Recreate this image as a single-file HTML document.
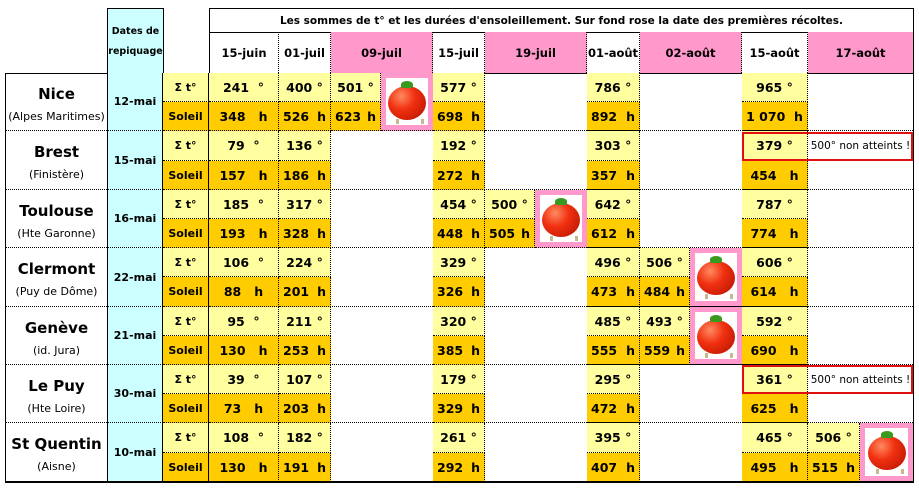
<!DOCTYPE html>
<html><head><meta charset="utf-8">
<style>
body{margin:0;width:919px;height:488px;background:#fff;position:relative;overflow:hidden;font-family:"DejaVu Sans","Liberation Sans",sans-serif;font-weight:bold;font-size:12.5px;color:#000}
div{position:absolute;box-sizing:border-box}
.c{display:flex;align-items:center;justify-content:center;white-space:nowrap;border-right:1px dotted #000;border-bottom:1px dotted #000}
.y{background:#ffff9f}
.o{background:#ffcc00}
.s{justify-content:space-between;padding:0 4px 0 4px}
.w{background:#fff}
.p{background:#ff99cc}
.c0{left:5px;width:102px}.c1{left:107px;width:56px}.c2{left:163px;width:46px}.c3{left:209px;width:70px}.c4{left:279px;width:52px}.c5{left:331px;width:50px}.c6{left:381px;width:52px}.c7{left:433px;width:52px}.c8{left:485px;width:50px}.c9{left:535px;width:52px}.c10{left:587px;width:53px}.c11{left:640px;width:50px}.c12{left:690px;width:52px}.c13{left:742px;width:66px}.c14{left:808px;width:52px}.c15{left:860px;width:53px}
.tom{display:block;background:#ff99cc;border-bottom:1px dotted #000}
.tom i{position:absolute;left:5px;top:5px;right:5px;bottom:5px;background:#fff}
.tom b{position:absolute;left:50%;top:50%;width:38px;height:34px;margin:-16px 0 0 -19px;border-radius:50%;background:radial-gradient(circle at 35% 30%,#ff8a60 0%,#f03010 40%,#b01000 100%)}
.tom b:before{content:"";position:absolute;left:13px;top:-5px;width:12px;height:7px;background:#3a9a20;border-radius:50% 50% 20% 20%}
.tom b:after{content:"";position:absolute;left:8px;top:33px;width:22px;height:5px;border-left:3px solid #c8b890;border-right:3px solid #c8b890}
.city{display:block;text-align:center;border-bottom:1px dotted #000;border-left:1px solid #000;font-weight:normal}
.city .n{position:static;font-weight:bold;font-size:15px;margin-top:12px}
.city .sub{position:static;font-size:11px;margin-top:7px}
.date{background:#ccffff;border-left:1px solid #000;border-right:1px solid #000;display:flex;align-items:center;justify-content:center;font-size:11px}
.lab{border-right:1px solid #000!important;font-size:11px}
.red{border:2px solid #e01010}
.na{font-weight:normal;font-size:10.5px}
</style></head><body>
<!-- headers -->
<div class="date" style="left:107px;top:8px;width:57px;height:66px;border-top:1px solid #000;line-height:20px;text-align:center;font-size:9.5px">Dates de<br>repiquage</div>
<div style="left:209px;top:8px;width:705px;height:25px;border:1px solid #000;border-bottom:1px solid #000;display:flex;align-items:center;justify-content:center;font-size:10.5px">Les sommes de t° et les durées d'ensoleillement. Sur fond rose la date des premières récoltes.</div>
<div style="left:209px;top:32px;width:705px;height:42px;border-left:1px solid #000;border-right:1px solid #000"></div>
<div class="c c3" style="top:32px;height:41px;border-left:1px solid #000;border-bottom:none;font-size:11.5px">15-juin</div>
<div class="c c4" style="top:32px;height:41px;border-bottom:none;font-size:11.5px">01-juil</div>
<div class="c p" style="left:331px;width:102px;top:32px;height:41px;border-bottom:none;font-size:11.5px">09-juil</div>
<div class="c c7" style="top:32px;height:41px;border-bottom:none;font-size:11.5px">15-juil</div>
<div class="c p" style="left:485px;width:102px;top:32px;height:41px;border-bottom:none;font-size:11.5px">19-juil</div>
<div class="c c10" style="top:32px;height:41px;border-bottom:none;font-size:11.5px">01-août</div>
<div class="c p" style="left:640px;width:102px;top:32px;height:41px;border-bottom:none;font-size:11.5px">02-août</div>
<div class="c c13" style="top:32px;height:41px;border-bottom:none;font-size:11.5px">15-août</div>
<div class="c p" style="left:808px;width:105px;top:32px;height:41px;border-bottom:none;border-right:none;font-size:11.5px">17-août</div>
<!-- table frame -->
<div style="left:5px;top:73px;width:909px;height:410px;border:1px solid #000"></div>

<!-- Nice 73-131 -->
<div class="city c0" style="top:73px;height:58px"><div class="n">Nice</div><div class="sub">(Alpes Maritimes)</div></div>
<div class="date c1" style="top:73px;height:58px;border-bottom:1px dotted #000">12-mai</div>
<div class="c y lab c2" style="top:73px;height:29px">Σ t°</div>
<div class="c o lab c2" style="top:102px;height:29px">Soleil</div>
<div class="c y c3" style="top:73px;height:29px">241&nbsp;&nbsp;°</div>
<div class="c o c3" style="top:102px;height:29px">348&nbsp;&nbsp;&nbsp;h</div>
<div class="c y c4" style="top:73px;height:29px">400 °</div>
<div class="c o s c4" style="top:102px;height:29px"><span>526</span><span>h</span></div>
<div class="c y c5" style="top:73px;height:29px">501 °</div>
<div class="c o s c5" style="top:102px;height:29px"><span>623</span><span>h</span></div>
<div class="tom c6" style="top:73px;height:58px"><i></i><b></b></div>
<div class="c y c7" style="top:73px;height:29px">577 °</div>
<div class="c o s c7" style="top:102px;height:29px"><span>698</span><span>h</span></div>
<div class="c c10 y" style="top:73px;height:29px">786 °</div>
<div class="c o s c10" style="top:102px;height:29px"><span>892</span><span>h</span></div>
<div class="c c13 y" style="top:73px;height:29px">965 °</div>
<div class="c o c13" style="top:102px;height:29px">1 070&nbsp;&nbsp;h</div>
<div style="left:485px;top:130px;width:428px;border-top:1px dotted #000"></div>

<!-- Brest 131-190 -->
<div class="city c0" style="top:131px;height:59px"><div class="n">Brest</div><div class="sub">(Finistère)</div></div>
<div class="date c1" style="top:131px;height:59px;border-bottom:1px dotted #000">15-mai</div>
<div class="c y lab c2" style="top:131px;height:30px">Σ t°</div>
<div class="c o lab c2" style="top:161px;height:29px">Soleil</div>
<div class="c y c3" style="top:131px;height:30px">79&nbsp;&nbsp;°</div>
<div class="c o c3" style="top:161px;height:29px">157&nbsp;&nbsp;&nbsp;h</div>
<div class="c y c4" style="top:131px;height:30px">136 °</div>
<div class="c o s c4" style="top:161px;height:29px"><span>186</span><span>h</span></div>
<div class="c y c7" style="top:131px;height:30px">192 °</div>
<div class="c o s c7" style="top:161px;height:29px"><span>272</span><span>h</span></div>
<div class="c y c10" style="top:131px;height:30px">303 °</div>
<div class="c o s c10" style="top:161px;height:29px"><span>357</span><span>h</span></div>
<div class="c y c13" style="top:131px;height:30px">379 °</div>
<div class="c o c13" style="top:161px;height:29px">454&nbsp;&nbsp;&nbsp;h</div>
<div class="c na" style="left:808px;width:105px;top:131px;height:30px;border:none">500° non atteints !</div>
<div class="red" style="left:742px;top:132px;width:171px;height:29px"></div>
<div style="left:209px;top:189px;width:704px;border-top:1px dotted #000"></div>

<!-- Toulouse 190-248 -->
<div class="city c0" style="top:190px;height:58px"><div class="n">Toulouse</div><div class="sub">(Hte Garonne)</div></div>
<div class="date c1" style="top:190px;height:58px;border-bottom:1px dotted #000">16-mai</div>
<div class="c y lab c2" style="top:190px;height:29px">Σ t°</div>
<div class="c o lab c2" style="top:219px;height:29px">Soleil</div>
<div class="c y c3" style="top:190px;height:29px">185&nbsp;&nbsp;°</div>
<div class="c o c3" style="top:219px;height:29px">193&nbsp;&nbsp;&nbsp;h</div>
<div class="c y c4" style="top:190px;height:29px">317 °</div>
<div class="c o s c4" style="top:219px;height:29px"><span>328</span><span>h</span></div>
<div class="c y c7" style="top:190px;height:29px">454 °</div>
<div class="c o s c7" style="top:219px;height:29px"><span>448</span><span>h</span></div>
<div class="c y c8" style="top:190px;height:29px">500 °</div>
<div class="c o s c8" style="top:219px;height:29px"><span>505</span><span>h</span></div>
<div class="tom c9" style="top:190px;height:58px"><i></i><b></b></div>
<div class="c y c10" style="top:190px;height:29px">642 °</div>
<div class="c o s c10" style="top:219px;height:29px"><span>612</span><span>h</span></div>
<div class="c y c13" style="top:190px;height:29px">787 °</div>
<div class="c o c13" style="top:219px;height:29px">774&nbsp;&nbsp;&nbsp;h</div>
<div style="left:209px;top:247px;width:704px;border-top:1px dotted #000"></div>

<!-- Clermont 248-307 -->
<div class="city c0" style="top:248px;height:59px"><div class="n">Clermont</div><div class="sub">(Puy de Dôme)</div></div>
<div class="date c1" style="top:248px;height:59px;border-bottom:1px dotted #000">22-mai</div>
<div class="c y lab c2" style="top:248px;height:29px">Σ t°</div>
<div class="c o lab c2" style="top:277px;height:30px">Soleil</div>
<div class="c y c3" style="top:248px;height:29px">106&nbsp;&nbsp;°</div>
<div class="c o c3" style="top:277px;height:30px">88&nbsp;&nbsp;&nbsp;h</div>
<div class="c y c4" style="top:248px;height:29px">224 °</div>
<div class="c o s c4" style="top:277px;height:30px"><span>201</span><span>h</span></div>
<div class="c y c7" style="top:248px;height:29px">329 °</div>
<div class="c o s c7" style="top:277px;height:30px"><span>326</span><span>h</span></div>
<div class="c y c10" style="top:248px;height:29px">496 °</div>
<div class="c o s c10" style="top:277px;height:30px"><span>473</span><span>h</span></div>
<div class="c y c11" style="top:248px;height:29px">506 °</div>
<div class="c o s c11" style="top:277px;height:30px"><span>484</span><span>h</span></div>
<div class="tom c12" style="top:248px;height:59px"><i></i><b></b></div>
<div class="c y c13" style="top:248px;height:29px">606 °</div>
<div class="c o c13" style="top:277px;height:30px">614&nbsp;&nbsp;&nbsp;h</div>
<div style="left:209px;top:306px;width:704px;border-top:1px dotted #000"></div>

<!-- Geneve 307-365 -->
<div class="city c0" style="top:307px;height:58px"><div class="n">Genève</div><div class="sub">(id. Jura)</div></div>
<div class="date c1" style="top:307px;height:58px;border-bottom:1px dotted #000">21-mai</div>
<div class="c y lab c2" style="top:307px;height:29px">Σ t°</div>
<div class="c o lab c2" style="top:336px;height:29px">Soleil</div>
<div class="c y c3" style="top:307px;height:29px">95&nbsp;&nbsp;°</div>
<div class="c o c3" style="top:336px;height:29px">130&nbsp;&nbsp;&nbsp;h</div>
<div class="c y c4" style="top:307px;height:29px">211 °</div>
<div class="c o s c4" style="top:336px;height:29px"><span>253</span><span>h</span></div>
<div class="c y c7" style="top:307px;height:29px">320 °</div>
<div class="c o s c7" style="top:336px;height:29px"><span>385</span><span>h</span></div>
<div class="c y c10" style="top:307px;height:29px">485 °</div>
<div class="c o s c10" style="top:336px;height:29px"><span>555</span><span>h</span></div>
<div class="c y c11" style="top:307px;height:29px">493 °</div>
<div class="c o s c11" style="top:336px;height:29px"><span>559</span><span>h</span></div>
<div class="tom c12" style="top:307px;height:58px"><i></i><b></b></div>
<div class="c y c13" style="top:307px;height:29px">592 °</div>
<div class="c o c13" style="top:336px;height:29px">690&nbsp;&nbsp;&nbsp;h</div>
<div style="left:209px;top:364px;width:704px;border-top:1px dotted #000"></div>

<!-- Le Puy 365-423 -->
<div class="city c0" style="top:365px;height:58px"><div class="n">Le Puy</div><div class="sub">(Hte Loire)</div></div>
<div class="date c1" style="top:365px;height:58px;border-bottom:1px dotted #000">30-mai</div>
<div class="c y lab c2" style="top:365px;height:29px">Σ t°</div>
<div class="c o lab c2" style="top:394px;height:29px">Soleil</div>
<div class="c y c3" style="top:365px;height:29px">39&nbsp;&nbsp;°</div>
<div class="c o c3" style="top:394px;height:29px">73&nbsp;&nbsp;&nbsp;h</div>
<div class="c y c4" style="top:365px;height:29px">107 °</div>
<div class="c o s c4" style="top:394px;height:29px"><span>203</span><span>h</span></div>
<div class="c y c7" style="top:365px;height:29px">179 °</div>
<div class="c o s c7" style="top:394px;height:29px"><span>329</span><span>h</span></div>
<div class="c y c10" style="top:365px;height:29px">295 °</div>
<div class="c o s c10" style="top:394px;height:29px"><span>472</span><span>h</span></div>
<div class="c y c13" style="top:365px;height:29px">361 °</div>
<div class="c o c13" style="top:394px;height:29px">625&nbsp;&nbsp;&nbsp;h</div>
<div class="c na" style="left:808px;width:105px;top:365px;height:29px;border:none">500° non atteints !</div>
<div class="red" style="left:742px;top:365px;width:171px;height:29px"></div>
<div style="left:209px;top:422px;width:704px;border-top:1px dotted #000"></div>

<!-- St Quentin 423-482 -->
<div class="city c0" style="top:423px;height:59px;border-bottom:none"><div class="n">St Quentin</div><div class="sub">(Aisne)</div></div>
<div class="date c1" style="top:423px;height:59px">10-mai</div>
<div class="c y lab c2" style="top:423px;height:30px">Σ t°</div>
<div class="c o lab c2" style="top:453px;height:29px;border-bottom:none">Soleil</div>
<div class="c y c3" style="top:423px;height:30px">108&nbsp;&nbsp;°</div>
<div class="c o c3" style="top:453px;height:29px">130&nbsp;&nbsp;&nbsp;h</div>
<div class="c y c4" style="top:423px;height:30px">182 °</div>
<div class="c o s c4" style="top:453px;height:29px"><span>191</span><span>h</span></div>
<div class="c y c7" style="top:423px;height:30px">261 °</div>
<div class="c o s c7" style="top:453px;height:29px"><span>292</span><span>h</span></div>
<div class="c y c10" style="top:423px;height:30px">395 °</div>
<div class="c o s c10" style="top:453px;height:29px"><span>407</span><span>h</span></div>
<div class="c y c13" style="top:423px;height:30px">465 °</div>
<div class="c o c13" style="top:453px;height:29px">495&nbsp;&nbsp;&nbsp;h</div>
<div class="c y c14" style="top:423px;height:30px">506 °</div>
<div class="c o s c14" style="top:453px;height:29px"><span>515</span><span>h</span></div>
<div class="tom c15" style="top:423px;height:59px"><i></i><b></b></div>
<div style="left:5px;top:481px;width:909px;border-top:2px solid #000"></div>
</body></html>
